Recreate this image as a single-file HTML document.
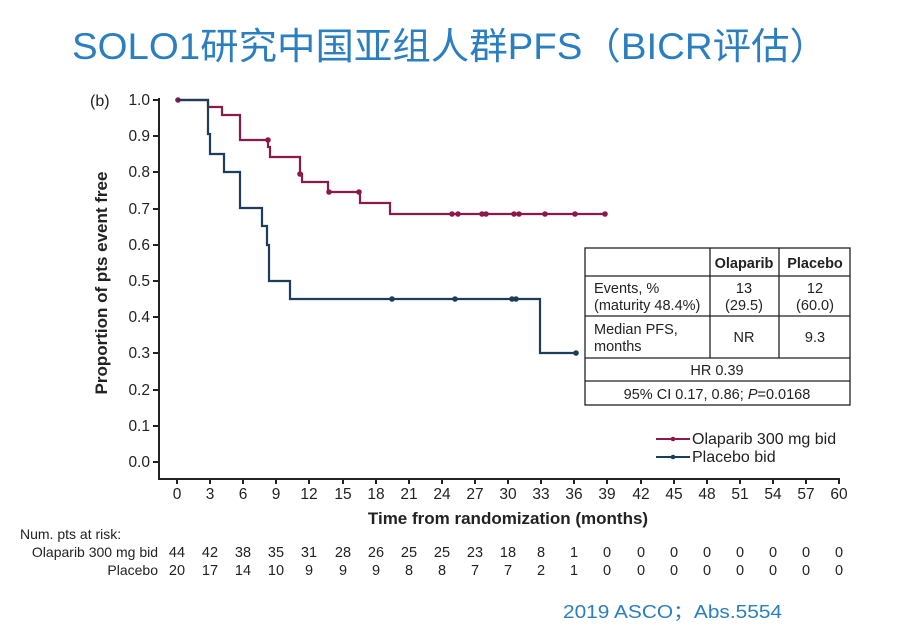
<!DOCTYPE html>
<html><head><meta charset="utf-8"><style>
body{margin:0;background:#fff;width:900px;height:626px;overflow:hidden}
svg{display:block}
text{font-family:"Liberation Sans","Noto Sans CJK SC",sans-serif;fill:#222}
</style></head><body>
<svg width="900" height="626" viewBox="0 0 900 626" xmlns="http://www.w3.org/2000/svg">
<text x="72" y="59" textLength="756" lengthAdjust="spacingAndGlyphs" font-size="37" style="fill:#2b7fc1">SOLO1研究中国亚组人群PFS（BICR评估）</text>
<text x="90" y="106" font-size="16">(b)</text>
<g font-size="15.5" text-anchor="end">
<text x="150" y="105">1.0</text><text x="150" y="141">0.9</text><text x="150" y="177">0.8</text><text x="150" y="214">0.7</text><text x="150" y="250">0.6</text><text x="150" y="286">0.5</text><text x="150" y="322">0.4</text><text x="150" y="358">0.3</text><text x="150" y="395">0.2</text><text x="150" y="431">0.1</text><text x="150" y="467">0.0</text>
</g>
<text transform="translate(107,283) rotate(-90)" text-anchor="middle" font-size="17" font-weight="bold">Proportion of pts event free</text>
<g stroke="#222" stroke-width="2" fill="none">
<path d="M159,98 V479 H840"/>
<path d="M153,100H159M153,136H159M153,172H159M153,209H159M153,245H159M153,281H159M153,317H159M153,353H159M153,390H159M153,426H159M153,462H159"/>
<path d="M177,479v5M210,479v5M243,479v5M276,479v5M309,479v5M343,479v5M376,479v5M409,479v5M442,479v5M475,479v5M508,479v5M541,479v5M574,479v5M607,479v5M641,479v5M674,479v5M707,479v5M740,479v5M773,479v5M806,479v5M839,479v5"/>
</g>
<g font-size="15.5" text-anchor="middle">
<text x="177" y="499">0</text><text x="210" y="499">3</text><text x="243" y="499">6</text><text x="276" y="499">9</text><text x="309" y="499">12</text><text x="343" y="499">15</text><text x="376" y="499">18</text><text x="409" y="499">21</text><text x="442" y="499">24</text><text x="475" y="499">27</text><text x="508" y="499">30</text><text x="541" y="499">33</text><text x="574" y="499">36</text><text x="607" y="499">39</text><text x="641" y="499">42</text><text x="674" y="499">45</text><text x="707" y="499">48</text><text x="740" y="499">51</text><text x="773" y="499">54</text><text x="806" y="499">57</text><text x="839" y="499">60</text>
</g>
<text x="508" y="524" text-anchor="middle" font-size="17" font-weight="bold">Time from randomization (months)</text>
<path d="M177,100H208V107H222V115H240V140H268V147H270V157H300V174H302V182H328V192H360V203H390V214H607" stroke="#8b1a4a" stroke-width="2.2" fill="none"/>
<g fill="#8b1a4a"><circle cx="178" cy="100" r="2.8"/><circle cx="268" cy="140" r="2.8"/><circle cx="300" cy="174" r="2.8"/><circle cx="329" cy="192" r="2.8"/><circle cx="359" cy="192" r="2.8"/><circle cx="452" cy="214" r="2.8"/><circle cx="458" cy="214" r="2.8"/><circle cx="482" cy="214" r="2.8"/><circle cx="486" cy="214" r="2.8"/><circle cx="514" cy="214" r="2.8"/><circle cx="519" cy="214" r="2.8"/><circle cx="545" cy="214" r="2.8"/><circle cx="575" cy="214" r="2.8"/><circle cx="605" cy="214" r="2.8"/></g>
<path d="M177,100H208V134H210V154H224V172H240V208H262V226H267V245H269V281H290V299H540V353H577" stroke="#1d3d5a" stroke-width="2.2" fill="none"/>
<g fill="#1d3d5a"><circle cx="392" cy="299" r="2.8"/><circle cx="455" cy="299" r="2.8"/><circle cx="512" cy="299" r="2.8"/><circle cx="516" cy="299" r="2.8"/><circle cx="576" cy="353" r="2.8"/></g>
<g stroke="#222" stroke-width="1.3" fill="#fff">
<rect x="585" y="248" width="265" height="157"/>
<path d="M585,276H850M585,316H850M585,358H850M585,381H850M710,248V358M779,248V358" fill="none"/>
</g>
<g font-size="14.5">
<text x="744" y="268" text-anchor="middle" font-weight="bold">Olaparib</text>
<text x="815" y="268" text-anchor="middle" font-weight="bold">Placebo</text>
<text x="594" y="293">Events, %</text><text x="594" y="310">(maturity 48.4%)</text>
<text x="744" y="293" text-anchor="middle">13</text><text x="744" y="310" text-anchor="middle">(29.5)</text>
<text x="815" y="293" text-anchor="middle">12</text><text x="815" y="310" text-anchor="middle">(60.0)</text>
<text x="594" y="334">Median PFS,</text><text x="594" y="351">months</text>
<text x="744" y="342" text-anchor="middle">NR</text><text x="815" y="342" text-anchor="middle">9.3</text>
<text x="717" y="375" text-anchor="middle">HR 0.39</text>
<text x="717" y="399" text-anchor="middle">95% CI 0.17, 0.86; <tspan font-style="italic">P</tspan>=0.0168</text>
</g>
<path d="M656,439H690" stroke="#8b1a4a" stroke-width="2"/><circle cx="673" cy="439" r="2.3" fill="#8b1a4a"/>
<path d="M656,457H690" stroke="#1d3d5a" stroke-width="2"/><circle cx="673" cy="457" r="2.3" fill="#1d3d5a"/>
<text x="692" y="444" font-size="16">Olaparib 300 mg bid</text>
<text x="692" y="462" font-size="16">Placebo bid</text>
<g font-size="14">
<text x="20" y="539">Num. pts at risk:</text>
<text x="158" y="557" text-anchor="end">Olaparib 300 mg bid</text>
<text x="158" y="575" text-anchor="end">Placebo</text>
</g>
<g font-size="14.5" text-anchor="middle">
<text y="557"><tspan x="177">44</tspan><tspan x="210">42</tspan><tspan x="243">38</tspan><tspan x="276">35</tspan><tspan x="309">31</tspan><tspan x="343">28</tspan><tspan x="376">26</tspan><tspan x="409">25</tspan><tspan x="442">25</tspan><tspan x="475">23</tspan><tspan x="508">18</tspan><tspan x="541">8</tspan><tspan x="574">1</tspan><tspan x="607">0</tspan><tspan x="641">0</tspan><tspan x="674">0</tspan><tspan x="707">0</tspan><tspan x="740">0</tspan><tspan x="773">0</tspan><tspan x="806">0</tspan><tspan x="839">0</tspan></text>
<text y="575"><tspan x="177">20</tspan><tspan x="210">17</tspan><tspan x="243">14</tspan><tspan x="276">10</tspan><tspan x="309">9</tspan><tspan x="343">9</tspan><tspan x="376">9</tspan><tspan x="409">8</tspan><tspan x="442">8</tspan><tspan x="475">7</tspan><tspan x="508">7</tspan><tspan x="541">2</tspan><tspan x="574">1</tspan><tspan x="607">0</tspan><tspan x="641">0</tspan><tspan x="674">0</tspan><tspan x="707">0</tspan><tspan x="740">0</tspan><tspan x="773">0</tspan><tspan x="806">0</tspan><tspan x="839">0</tspan></text>
</g>
<text x="563" y="618" textLength="219" lengthAdjust="spacingAndGlyphs" font-size="18" style="fill:#2b7fc1">2019 ASCO；Abs.5554</text>
</svg>
</body></html>
